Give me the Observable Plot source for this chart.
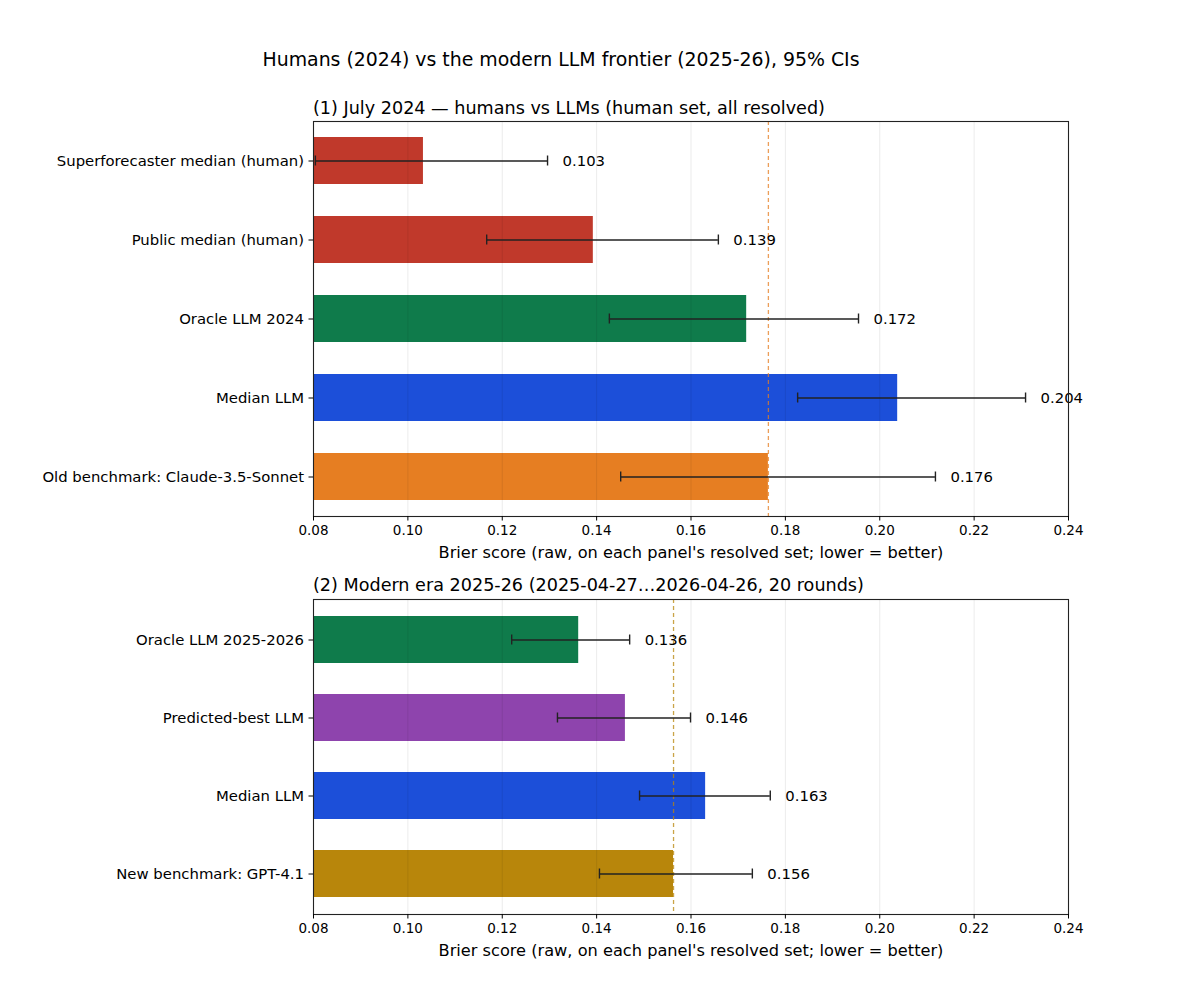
<!DOCTYPE html>
<html><head><meta charset="utf-8">
<script src="https://cdn.jsdelivr.net/npm/d3@7"></script>
<script src="https://cdn.jsdelivr.net/npm/@observablehq/plot@0.6"></script>
<style>
body{margin:0;background:#fff;font-family:"DejaVu Sans",sans-serif;}
#wrap{position:relative;width:1200px;height:984px;background:#fff;}
.t{position:absolute;white-space:nowrap;color:#000;line-height:1.2;}
</style></head><body>
<div id="wrap">
<div id="p1" style="position:absolute;left:0;top:0"></div>
<div id="p2" style="position:absolute;left:0;top:570px"></div>
<div class="t" style="left:0;width:1122px;text-align:center;top:48px;font-size:18.9px">Humans (2024) vs the modern LLM frontier (2025-26), 95% CIs</div>
<div class="t" style="left:313px;top:98px;font-size:17.6px">(1) July 2024 — humans vs LLMs (human set, all resolved)</div>
<div class="t" style="left:313px;top:575px;font-size:17.6px">(2) Modern era 2025-26 (2025-04-27…2026-04-26, 20 rounds)</div>
</div>
<script>
// ---- data ----
const xTicks = [0.08, 0.10, 0.12, 0.14, 0.16, 0.18, 0.20, 0.22, 0.24];
const xLabel = "Brier score (raw, on each panel's resolved set; lower = better)";

const p1Labels = ["Superforecaster median (human)", "Public median (human)", "Oracle LLM 2024", "Median LLM", "Old benchmark: Claude-3.5-Sonnet"];
const p1Values = [0.1033, 0.1393, 0.1718, 0.2038, 0.1764];
const p1Low    = [0.0804, 0.1167, 0.1427, 0.1826, 0.1451];
const p1High   = [0.1296, 0.1658, 0.1955, 0.2309, 0.2118];
const p1Colors = ["#c0392b", "#c0392b", "#0f7b4b", "#1c4fd9", "#e67e22"];
const p1Bench = 0.1764;
const p1BenchColor = "#e67e22";

const p2Labels = ["Oracle LLM 2025-2026", "Predicted-best LLM", "Median LLM", "New benchmark: GPT-4.1"];
const p2Values = [0.1362, 0.1461, 0.1631, 0.1563];
const p2Low    = [0.1220, 0.1317, 0.1491, 0.1406];
const p2High   = [0.1470, 0.1599, 0.1768, 0.1730];
const p2Colors = ["#0f7b4b", "#8e44ad", "#1c4fd9", "#b8860b"];
const p2Bench = 0.1563;
const p2BenchColor = "#b8860b";

function panel(labels, values, lo, hi, colors, bench, benchColor, height, mt, mb) {
  const data = labels.map((l, i) => ({label: l, value: values[i], lo: lo[i], hi: hi[i], color: colors[i]}));
  const capInset = 18.5;
  return Plot.plot({
    width: 1200, height,
    marginLeft: 313, marginRight: 132, marginTop: mt, marginBottom: mb,
    style: {fontFamily: "DejaVu Sans", fontSize: "14.85px", color: "#000", background: "transparent"},
    x: {domain: [0.08, 0.24]},
    y: {domain: labels, paddingInner: 0.4, paddingOuter: 0.2},
    color: {type: "identity"},
    marks: [
      Plot.barX(data, {y: "label", x1: 0.08, x2: "value", fill: "color"}),
      Plot.gridX(xTicks, {stroke: "#000", strokeOpacity: 0.08}),
      Plot.ruleX([bench], {stroke: benchColor, strokeOpacity: 0.75, strokeDasharray: "4,3", strokeWidth: 1.3}),
      Plot.ruleY(data, {y: "label", x1: "lo", x2: "hi", stroke: "#222", strokeWidth: 1.4}),
      Plot.tickX(data, {y: "label", x: "lo", stroke: "#222", strokeWidth: 1.4, insetTop: capInset, insetBottom: capInset}),
      Plot.tickX(data, {y: "label", x: "hi", stroke: "#222", strokeWidth: 1.4, insetTop: capInset, insetBottom: capInset}),
      Plot.text(data, {y: "label", x: "hi", text: d => d3.format(".3f")(d.value), dx: 15, textAnchor: "start", fontSize: 14.85, fill: "#000"}),
      Plot.frame({stroke: "#222", strokeWidth: 1.1}),
      Plot.axisX({ticks: xTicks, tickFormat: d3.format(".2f"), tickSize: 4.5, tickPadding: 4, fontSize: 13.5, label: null}),
      Plot.text([xLabel], {text: d => d, frameAnchor: "bottom", dy: 41, lineAnchor: "bottom", fontSize: 16.2, fill: "#000"}),
      Plot.axisY({tickSize: 4.5, tickPadding: 5, fontSize: 14.85, label: null})
    ]
  });
}

document.getElementById("p1").append(panel(p1Labels, p1Values, p1Low, p1High, p1Colors, p1Bench, p1BenchColor, 570, 121, 54));
document.getElementById("p2").append(panel(p2Labels, p2Values, p2Low, p2High, p2Colors, p2Bench, p2BenchColor, 414, 29, 70));
</script>
</body></html>
